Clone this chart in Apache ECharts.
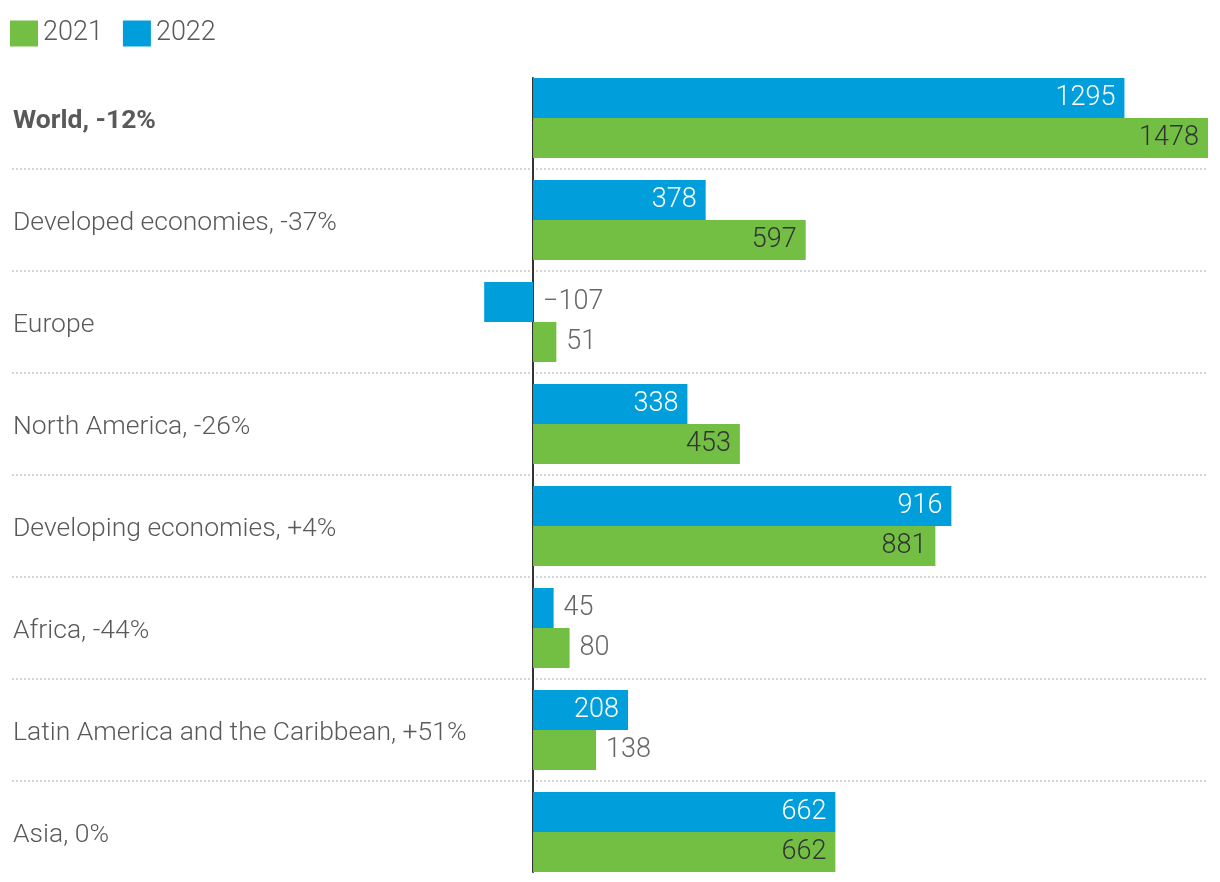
<!DOCTYPE html>
<html>
<head>
<meta charset="utf-8">
<script src="https://cdn.jsdelivr.net/npm/echarts@6/dist/echarts.min.js"></script>
<style>html,body{margin:0;padding:0;background:#fff;}#c{width:1220px;height:882px;}</style>
</head>
<body>
<div id="c"></div>
<script>
const categories = ['World, -12%', 'Developed economies, -37%', 'Europe', 'North America, -26%', 'Developing economies, +4%', 'Africa, -44%', 'Latin America and the Caribbean, +51%', 'Asia, 0%'];
const seriesNames = ['2021', '2022'];
const values2021 = [1478, 597, 51, 453, 881, 80, 138, 662];
const values2022 = [1295, 378, -107, 338, 916, 45, 208, 662];

const GREEN = '#72BF44', BLUE = '#009EDB';
const FONT = 'Roboto';

function fmt(v) { return v < 0 ? '\u2212' + Math.abs(v) : String(v); }
function makeData(vals, insideColor) {
  return vals.map(v => {
    const outside = Math.abs(v) < 150;
    return {
      value: v,
      label: outside
        ? { position: 'right', distance: 10, color: '#666' }
        : { position: 'insideRight', distance: 9, color: insideColor }
    };
  });
}

const xMin = -1141, xMax = 1478;
const chart = echarts.init(document.getElementById('c'), null, { renderer: 'canvas' });
chart.setOption({
  animation: false,
  textStyle: { fontFamily: FONT },
  legend: {
    data: seriesNames,
    left: 5, top: 15,
    itemWidth: 28, itemHeight: 26, itemGap: 20,
    icon: 'rect',
    textStyle: { fontSize: 27, color: '#595959', fontFamily: FONT, fontWeight: 300 }
  },
  grid: [
    { left: 12, right: 12, top: 67, bottom: -1, containLabel: false, outerBoundsMode: 'none' },
    { left: 12, right: 12, top: 78, bottom: 10, containLabel: false, outerBoundsMode: 'none' }
  ],
  xAxis: [
    { type: 'value', gridIndex: 0, min: xMin, max: xMax, show: false, splitLine: { show: false } },
    { type: 'value', gridIndex: 1, min: xMin, max: xMax, show: false, splitLine: { show: false } }
  ],
  yAxis: [
    {
      type: 'category', gridIndex: 0, inverse: true, data: categories,
      axisLine: { show: false }, axisTick: { show: false },
      axisLabel: {
        align: 'left', margin: -1, fontSize: 26.5, color: '#595959', fontWeight: 300, fontFamily: FONT,
        padding: [6, 0, 0, 0],
        formatter: (v, i) => i === 0 ? '{b|' + v + '}' : v,
        rich: { b: { fontWeight: 'bold', fontSize: 26.5, color: '#595959', fontFamily: FONT } }
      },
      splitLine: {
        show: true,
        interval: (i) => i !== 0,
        lineStyle: { type: [2, 2], color: '#c8c8c8', width: 1.5 }
      }
    },
    {
      type: 'category', gridIndex: 1, inverse: true, data: categories,
      axisLine: { show: true, onZero: true, lineStyle: { color: '#333', width: 2 } },
      axisTick: { show: false }, axisLabel: { show: false }, splitLine: { show: false }
    }
  ],
  series: [
    {
      name: '2022', type: 'bar', xAxisIndex: 0, yAxisIndex: 0,
      data: makeData(values2022, '#fff'),
      itemStyle: { color: BLUE },
      barCategoryGap: '21.6%', barGap: '0%',
      label: { show: true, fontSize: 27, fontWeight: 300, fontFamily: FONT, formatter: p => fmt(p.value) }
    },
    {
      name: '2021', type: 'bar', xAxisIndex: 0, yAxisIndex: 0,
      data: makeData(values2021, '#333'),
      itemStyle: { color: GREEN },
      barCategoryGap: '21.6%', barGap: '0%',
      label: { show: true, fontSize: 27, fontWeight: 300, fontFamily: FONT, formatter: p => fmt(p.value) }
    }
  ]
});
</script>
</body>
</html>
